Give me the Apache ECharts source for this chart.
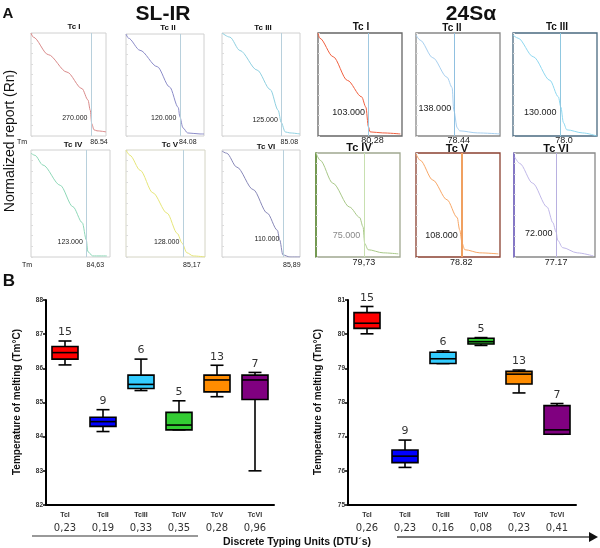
<!DOCTYPE html>
<html>
<head>
<meta charset="utf-8">
<script src="https://cdn.jsdelivr.net/npm/echarts@6/dist/echarts.min.js"></script>
<style>
  html, body { margin: 0; padding: 0; background: #fff; }
  #main { width: 600px; height: 548px; }
</style>
</head>
<body>
<div id="main"></div>
<script>
// ---- data ----
const miniTitles = ['Tc I', 'Tc II', 'Tc III', 'Tc IV', 'Tc V', 'Tc VI'];

// melt curves, x = position in the melt window (%), y = normalized Rn
const slirCurves = [
  [[0, 1.0], [3, 0.96], [23, 0.79], [48, 0.62], [68, 0.46], [76, 0.35], [79, 0.25], [81, 0.12], [84, 0.06], [88, 0.05], [100, 0.04]],
  [[0, 1.0], [3, 0.96], [18, 0.84], [40, 0.68], [56, 0.48], [67, 0.28], [69, 0.19], [73, 0.08], [79, 0.03], [95, 0.02], [100, 0.02]],
  [[0, 1.0], [10, 0.96], [23, 0.83], [45, 0.64], [62, 0.45], [72, 0.25], [76, 0.13], [81, 0.04], [87, 0.03], [100, 0.02]],
  [[0, 0.97], [5, 0.95], [15, 0.86], [37, 0.67], [53, 0.47], [65, 0.32], [70, 0.16], [72, 0.05], [78, 0.01], [96, 0.01]],
  [[0, 1.0], [5, 0.95], [18, 0.81], [34, 0.60], [52, 0.41], [65, 0.22], [71, 0.13], [77, 0.04], [85, 0.01], [100, 0.0]],
  [[0, 0.99], [6, 0.97], [19, 0.84], [40, 0.63], [58, 0.41], [71, 0.25], [74, 0.16], [78, 0.02], [87, 0.0], [100, 0.0]]
];
const s24Curves = [
  [[0, 1.0], [2, 0.95], [18, 0.77], [35, 0.54], [52, 0.38], [57, 0.28], [60, 0.09], [62, 0.04], [77, 0.03], [98, 0.02]],
  [[0, 0.98], [5, 0.93], [20, 0.76], [37, 0.57], [43, 0.47], [45, 0.25], [49, 0.08], [52, 0.05], [73, 0.03], [100, 0.02]],
  [[0, 0.98], [6, 0.95], [24, 0.77], [44, 0.54], [54, 0.38], [57, 0.28], [60, 0.13], [64, 0.06], [83, 0.03], [100, 0.0]],
  [[0, 1.0], [5, 0.93], [20, 0.71], [40, 0.48], [52, 0.38], [56, 0.29], [58, 0.13], [62, 0.07], [80, 0.04], [98, 0.03]],
  [[0, 0.99], [5, 0.93], [20, 0.74], [37, 0.55], [49, 0.38], [52, 0.26], [55, 0.13], [58, 0.07], [76, 0.04], [98, 0.03]],
  [[1, 0.96], [7, 0.90], [23, 0.71], [41, 0.48], [48, 0.33], [52, 0.24], [54, 0.16], [60, 0.09], [78, 0.04], [98, 0.01]]
];
const slirTmPos = [80, 69, 76, 70, 72, 78];
const s24TmPos = [60, 46, 56, 57, 54, 52];
const slirTm = ['86.54', '84.08', '85.08', '84,63', '85,17', '85,89'];
const s24Tm = ['80,28', '78.44', '78.0', '79,73', '78.82', '77.17'];
const slirRn = ['270.000', '120.000', '125.000', '123.000', '128.000', '110.000'];
const s24Rn = ['103.000', '138.000', '130.000', '75.000', '108.000', '72.000'];
const slirRnY = [0.17, 0.18, 0.15, 0.14, 0.14, 0.17];
const s24RnY = [0.23, 0.27, 0.23, 0.21, 0.21, 0.23];

// box plots: [min, Q1, median, Q3, max]
const dtus = ['TcI', 'TcII', 'TcIII', 'TcIV', 'TcV', 'TcVI'];
const slirStats = [
  [86.10, 86.27, 86.46, 86.64, 86.80],
  [84.15, 84.30, 84.44, 84.57, 84.79],
  [85.35, 85.41, 85.53, 85.80, 86.27],
  [84.20, 84.20, 84.34, 84.71, 85.05],
  [85.17, 85.31, 85.66, 85.80, 86.09],
  [83.00, 85.09, 85.66, 85.80, 85.88]
];
const s24Stats = [
  [80.01, 80.17, 80.32, 80.63, 80.81],
  [76.10, 76.24, 76.43, 76.61, 76.90],
  [79.14, 79.14, 79.28, 79.47, 79.51],
  [79.67, 79.71, 79.78, 79.88, 79.90],
  [78.28, 78.54, 78.83, 78.91, 78.95],
  [77.07, 77.07, 77.20, 77.91, 77.97]
];
const slirN = [15, 9, 6, 5, 13, 7];
const s24N = [15, 9, 6, 5, 13, 7];
const slirCv = ['0,23', '0,19', '0,33', '0,35', '0,28', '0,96'];
const s24Cv = ['0,26', '0,23', '0,16', '0,08', '0,23', '0,41'];

// ---- layout / styles ----
const miniLayout = [
  [31, 33, 75, 103], [126, 34, 78, 102], [222, 33, 78, 103],
  [31, 150, 79, 107], [126, 150, 79, 107], [222, 150, 78, 107],
  [318, 33, 84, 103], [416, 33, 84, 103], [513, 33, 84, 103],
  [316, 153, 84, 104], [416, 153, 84, 104], [514, 153, 81, 104]
];
const curveColors = ['#d98a8a', '#8c8cc8', '#8fd0e0', '#8fd8b8', '#e6e67a', '#8888b8',
                     '#f06040', '#a8d0f0', '#8fd8f0', '#a8c888', '#f8a868', '#c0b8e8'];
const frameColors = ['#d0d0d0', '#d0d0d0', '#d0d0d0', '#d0d0d0', '#d4d4c4', '#d0d0d0',
                     '#666666', '#888888', '#4a6a80', '#a0a890', '#8a4030', '#888888'];
const leftEdge = [null, null, null, null, null, null, null, null, null, '#5a8a30', null, '#7766cc'];
const tmLineColors = ['#b8d0dc', '#b8d0dc', '#b8d0dc', '#b8d0dc', '#b8d0dc', '#b8d0dc',
                      '#a0c8e0', '#90c0e0', '#90c8e0', '#c8e0b0', '#f0a060', '#b8b0e0'];
const dtuColors = ['#ff0000', '#0000ff', '#33ccff', '#33cc33', '#ff8c00', '#800080'];
const FONT = '"Liberation Sans", Arial, sans-serif';

const grids = [], xAxes = [], yAxes = [], series = [];

for (let i = 0; i < 12; i++) {
  const k = i % 6;
  const isSl = i < 6;
  const row2 = k >= 3;
  const [l, t, w, h] = miniLayout[i];
  const tmPos = isSl ? slirTmPos[k] : s24TmPos[k];
  grids.push({ left: l, top: t, width: w, height: h, show: true,
    borderColor: frameColors[i], borderWidth: isSl ? 1 : 1.3 });
  xAxes.push({ type: 'value', gridIndex: i, min: 0, max: 100, show: false });
  yAxes.push({ type: 'value', gridIndex: i, min: 0, max: 1, interval: 0.1,
    axisLabel: { show: false }, splitLine: { show: false },
    axisLine: { show: !!leftEdge[i], lineStyle: { color: leftEdge[i] || '#ccc', width: 1.5 } },
    axisTick: { show: true, inside: true, length: 2, lineStyle: { color: '#dcdcdc' } } });
  const tmOffset = isSl ? (row2 ? [9, 3] : [8, 1]) : (row2 ? [0, 0] : [4, -1]);
  series.push({
    type: 'line', xAxisIndex: i, yAxisIndex: i,
    data: isSl ? slirCurves[k] : s24Curves[k],
    smooth: 0.3, smoothMonotone: 'x',
    showSymbol: false, silent: true, animation: false,
    lineStyle: { color: curveColors[i], width: 1 },
    markLine: {
      symbol: 'none', silent: true, animation: false,
      label: { show: false },
      lineStyle: { color: tmLineColors[i], width: i === 10 ? 2 : 1, type: 'solid' },
      data: [{ xAxis: tmPos }]
    },
    markPoint: {
      symbol: 'circle', symbolSize: 1, silent: true, animation: false,
      itemStyle: { color: 'rgba(0,0,0,0)' },
      data: [
        { coord: [tmPos, 0], label: { show: true, position: 'bottom', distance: 1,
            offset: tmOffset, formatter: isSl ? slirTm[k] : s24Tm[k],
            fontSize: isSl ? 7 : 9, color: '#222', fontFamily: FONT } },
        { coord: [tmPos, isSl ? slirRnY[k] : s24RnY[k]], label: { show: true, position: 'left', distance: 3,
            formatter: isSl ? slirRn[k] : s24Rn[k],
            fontSize: isSl ? 7 : 9, color: (i === 9) ? '#888' : '#222', fontFamily: FONT } }
      ]
    }
  });
}

function boxRender(colors) {
  return function (params, api) {
    const idx = api.value(0);
    const pMin = api.coord([idx, api.value(1)]);
    const pQ1 = api.coord([idx, api.value(2)]);
    const pMed = api.coord([idx, api.value(3)]);
    const pQ3 = api.coord([idx, api.value(4)]);
    const pMax = api.coord([idx, api.value(5)]);
    const cx = pMed[0];
    const bw = 26, cw = 13;
    const st = { stroke: '#000', lineWidth: 1.6 };
    return {
      type: 'group',
      children: [
        { type: 'line', shape: { x1: cx, y1: pMax[1], x2: cx, y2: pQ3[1] }, style: st },
        { type: 'line', shape: { x1: cx, y1: pQ1[1], x2: cx, y2: pMin[1] }, style: st },
        { type: 'line', shape: { x1: cx - cw / 2, y1: pMax[1], x2: cx + cw / 2, y2: pMax[1] }, style: st },
        { type: 'line', shape: { x1: cx - cw / 2, y1: pMin[1], x2: cx + cw / 2, y2: pMin[1] }, style: st },
        { type: 'rect', shape: { x: cx - bw / 2, y: pQ3[1], width: bw, height: pQ1[1] - pQ3[1] },
          style: { fill: colors[idx], stroke: '#000', lineWidth: 1.6 } },
        { type: 'line', shape: { x1: cx - bw / 2, y1: pMed[1], x2: cx + bw / 2, y2: pMed[1] }, style: st },
        { type: 'text', style: { text: String(api.value(6)), x: cx, y: pMax[1] - 3,
            align: 'center', verticalAlign: 'bottom', fontSize: 11, fill: '#333',
            fontFamily: '"DejaVu Sans", sans-serif' } }
      ]
    };
  };
}

function addBox(gi, left, stats, counts, cvs, yMin, yMax) {
  grids.push({ left: left, top: 300, width: 228, height: 205 });
  xAxes.push({ type: 'category', gridIndex: gi, data: dtus, boundaryGap: true,
    axisLine: { lineStyle: { color: '#000', width: 2 } }, axisTick: { show: false },
    axisLabel: { margin: 4, interval: 0,
      formatter: (v, idx) => '{b|' + v + '}\n{v|' + cvs[idx] + '}',
      rich: { b: { fontSize: 7, fontWeight: 'bold', color: '#333', fontFamily: FONT, lineHeight: 12 },
              v: { fontSize: 10, color: '#333', fontFamily: '"DejaVu Sans", sans-serif', lineHeight: 15 } } } });
  yAxes.push({ type: 'value', gridIndex: gi, min: yMin, max: yMax, interval: 1,
    axisLine: { show: true, lineStyle: { color: '#000', width: 2 } },
    axisTick: { show: true, length: 3, lineStyle: { color: '#000', width: 1.5 } },
    splitLine: { show: false },
    axisLabel: { fontSize: 6.5, fontWeight: 'bold', color: '#333', margin: 3, fontFamily: FONT } });
  series.push({ type: 'custom', xAxisIndex: gi, yAxisIndex: gi, silent: true, animation: false,
    renderItem: boxRender(dtuColors),
    encode: { x: 0, y: [1, 2, 3, 4, 5] },
    data: stats.map((s, idx) => [idx].concat(s, [counts[idx]])) });
}
addBox(12, 46, slirStats, slirN, slirCv, 82, 88);
addBox(13, 348, s24Stats, s24N, s24Cv, 75, 81);

const txt = (x, y, text, size, weight, extra) => Object.assign({
  type: 'text', x: x, y: y, silent: true,
  style: { text: text, fontSize: size, fontWeight: weight || 'normal', fill: '#111',
           fontFamily: FONT, align: 'center', verticalAlign: 'middle' }
}, extra || {});

const graphics = [
  txt(8, 14, 'A', 15, 'bold'),
  txt(9, 281, 'B', 17, 'bold'),
  txt(163, 14, 'SL-IR', 21, 'bold'),
  txt(471, 14, '24S\u03b1', 21, 'bold'),
  txt(10, 141, 'Normalized report (Rn)', 14, 'normal', { rotation: Math.PI / 2 }),
  txt(22, 142, 'Tm', 7, 'normal'),
  txt(27, 265, 'Tm', 7, 'normal'),
  txt(74, 27, 'Tc I', 8, 'bold'), txt(168, 28, 'Tc II', 8, 'bold'), txt(263, 28, 'Tc III', 8, 'bold'),
  txt(73, 145, 'Tc IV', 8, 'bold'), txt(170, 145, 'Tc V', 8, 'bold'), txt(266, 147, 'Tc VI', 8, 'bold'),
  txt(361, 27, 'Tc I', 10, 'bold'), txt(452, 28, 'Tc II', 10, 'bold'), txt(557, 27, 'Tc III', 10, 'bold'),
  txt(359, 148, 'Tc IV', 11, 'bold'), txt(457, 149, 'Tc V', 11, 'bold'), txt(556, 149, 'Tc VI', 11, 'bold'),
  txt(17, 402, 'Temperature of melting (Tm\u00b0C)', 10, 'bold', { rotation: Math.PI / 2 }),
  txt(318, 402, 'Temperature of melting (Tm\u00b0C)', 10, 'bold', { rotation: Math.PI / 2 }),
  txt(297, 542, 'Discrete Typing Units (DTU\u00b4s)', 10.5, 'bold'),
  { type: 'line', silent: true, shape: { x1: 32, y1: 536, x2: 198, y2: 536 }, style: { stroke: '#999', lineWidth: 2 } },
  { type: 'line', silent: true, shape: { x1: 397, y1: 537, x2: 590, y2: 537 }, style: { stroke: '#777', lineWidth: 2 } },
  { type: 'polygon', silent: true, shape: { points: [[589, 532], [598, 537], [589, 542]] }, style: { fill: '#111' } }
];

const chart = echarts.init(document.getElementById('main'), null, { renderer: 'canvas' });
chart.setOption({
  animation: false,
  backgroundColor: '#fff',
  textStyle: { fontFamily: FONT },
  grid: grids,
  xAxis: xAxes,
  yAxis: yAxes,
  series: series,
  graphic: graphics
});
</script>
</body>
</html>
